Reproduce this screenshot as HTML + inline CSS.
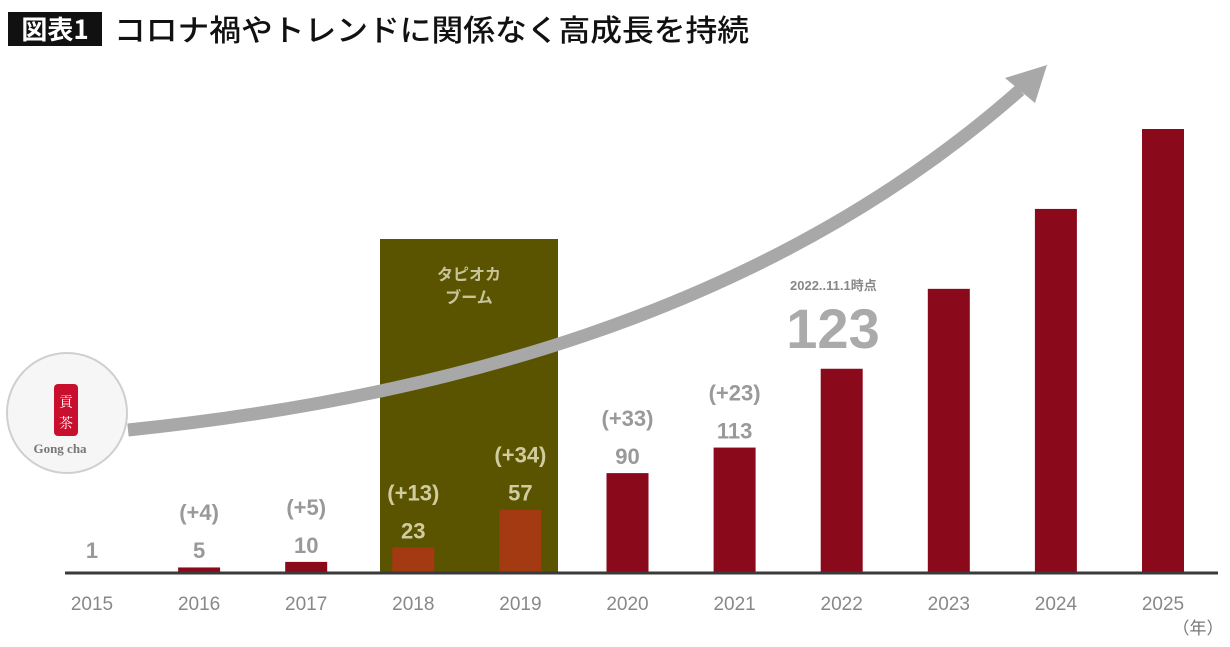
<!DOCTYPE html>
<html><head><meta charset="utf-8"><style>
body{margin:0;background:#fff;width:1230px;height:647px;overflow:hidden;font-family:"Liberation Sans","Noto Sans CJK JP",sans-serif}
svg{position:absolute;left:0;top:0}
</style></head><body>
<svg width="1230" height="647" viewBox="0 0 1230 647">
<rect x="8" y="12" width="94" height="34" fill="#111"/>
<text x="55" y="39" text-anchor="middle" font-size="26" font-weight="bold" fill="#fff" font-family="Noto Sans CJK JP, sans-serif">図表1</text>
<text x="114" y="41" font-size="30" font-weight="500" fill="#111" textLength="635" lengthAdjust="spacingAndGlyphs" font-family="Noto Sans CJK JP, sans-serif">コロナ禍やトレンドに関係なく高成長を持続</text>
<rect x="380" y="239" width="178" height="334" fill="#5a5400"/>
<text x="469" y="280" text-anchor="middle" font-size="16" font-weight="bold" fill="#c8c49a" font-family="Noto Sans CJK JP, sans-serif">タピオカ</text>
<text x="469" y="303" text-anchor="middle" font-size="16" font-weight="bold" fill="#c8c49a" font-family="Noto Sans CJK JP, sans-serif">ブーム</text>
<g id="bars"></g>
<path d="M128,430 C420,400 760,320 1020,90" stroke="#a8a8a8" stroke-width="13" fill="none"/>
<polygon points="1047,65 1005,78 1035,103" fill="#a8a8a8"/>
<circle cx="67" cy="413" r="60" fill="#f6f6f6" stroke="#cfcfcf" stroke-width="2"/>
<rect x="54" y="384" width="24" height="52" rx="4" fill="#c8102e"/>
<text x="66" y="407" text-anchor="middle" font-size="14" fill="#fff" font-family="Noto Serif CJK SC, serif">貢</text>
<text x="66" y="428" text-anchor="middle" font-size="14" fill="#fff" font-family="Noto Serif CJK SC, serif">茶</text>
<text x="60" y="453" text-anchor="middle" font-size="13" fill="#777" font-family="Liberation Serif, serif" font-weight="bold">Gong cha</text>
<line x1="65" y1="573" x2="1218" y2="573" stroke="#3a3a3a" stroke-width="3"/>
<text x="790" y="290" font-size="13" font-weight="bold" fill="#888" font-family="Liberation Sans, Noto Sans CJK JP, sans-serif">2022..11.1時点</text>
<text x="833" y="348" text-anchor="middle" font-size="56" font-weight="bold" fill="#aaa">123</text>
<text x="1198" y="634" text-anchor="middle" font-size="17" fill="#777" font-family="Liberation Sans, Noto Sans CJK JP, sans-serif">（年）</text>
</svg>
<script>
const years=["2015","2016","2017","2018","2019","2020","2021","2022","2023","2024","2025"];
const stores=[1,5,10,23,57,90,113,184,256,328,400];
const valueLabels=["1","5","10","23","57","90","113","","","",""];
const diffLabels=["","(+4)","(+5)","(+13)","(+34)","(+33)","(+23)","","","",""];
const boom=[false,false,false,true,true,false,false,false,false,false,false];
const NS="http://www.w3.org/2000/svg";
const g=document.getElementById('bars');
const base=573, ppu=1.11, x0=92, step=107.1, bw=42;
function xs(i){return x0+i*step;}
function ys(v){return base-v*ppu;}
function mk(t,a){const e=document.createElementNS(NS,t);for(const k in a)e.setAttribute(k,a[k]);g.appendChild(e);return e;}
years.forEach((y,i)=>{
  const cx=xs(i), top=ys(stores[i]);
  const r=mk('rect',{x:cx-bw/2,y:top,width:bw,height:base-top,fill:boom[i]?'#a33a12':'#8a0a1c'});
  
  
  const t=mk('text',{x:cx,y:610,'text-anchor':'middle','font-size':19,fill:'#888'});
  t.textContent=y;
  
  
  const lc=boom[i]?'#d0cca0':'#999';
  const vy=Math.min(top,base-6)-9;
  if(valueLabels[i]){
    const v=mk('text',{x:cx,y:vy,'text-anchor':'middle','font-size':22,'font-weight':'bold',fill:lc});
    v.textContent=valueLabels[i];
    
    
  }
  if(diffLabels[i]){
    const d=mk('text',{x:cx,y:vy-38,'text-anchor':'middle','font-size':22,'font-weight':'bold',fill:lc});
    d.textContent=diffLabels[i];
    
    
  }
});
</script>
</body></html>
